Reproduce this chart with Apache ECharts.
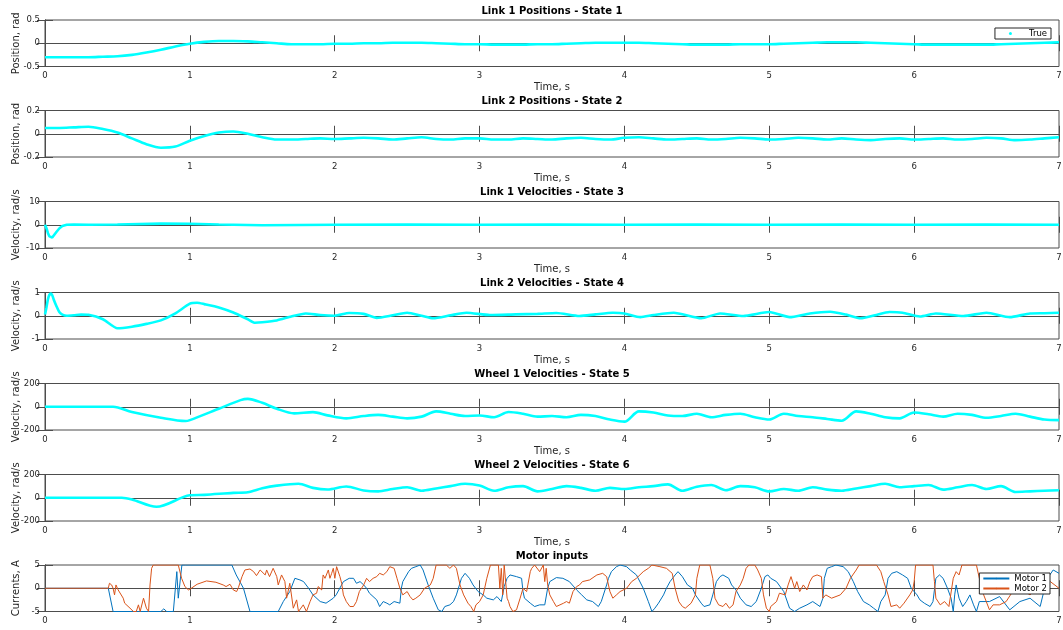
<!DOCTYPE html>
<html><head><meta charset="utf-8">
<script src="https://cdn.jsdelivr.net/npm/echarts@6/dist/echarts.min.js"></script>
<style>html,body{margin:0;padding:0;background:#fff}#c{width:1063px;height:630px}</style>
</head><body><div id="c"></div>
<script>
const titles = ['Link 1 Positions - State 1','Link 2 Positions - State 2','Link 1 Velocities - State 3','Link 2 Velocities - State 4','Wheel 1 Velocities - State 5','Wheel 2 Velocities - State 6','Motor inputs'];
const yNames = ['Position, rad','Position, rad','Velocity, rad/s','Velocity, rad/s','Velocity, rad/s','Velocity, rad/s','Currents, A'];
const yMin = [-0.5,-0.2,-10,-1,-200,-200,-5];
const yMax = [0.5,0.2,10,1,200,200,5];
const xMin = 0, xMax = 7, xStep = 1;
const dt = 0.1;

// State 1 and 2 sampled every 0.1 s
const s1 = [-0.30,-0.30,-0.30,-0.30,-0.29,-0.28,-0.25,-0.20,-0.14,-0.07,-0.01,0.03,0.05,0.05,0.04,0.02,0.00,-0.02,-0.02,-0.02,-0.01,-0.01,0.00,0.00,0.01,0.01,0.01,0.00,-0.01,-0.02,-0.02,-0.03,-0.03,-0.03,-0.02,-0.02,-0.01,0.00,0.01,0.01,0.01,0.01,0.00,-0.01,-0.02,-0.03,-0.03,-0.03,-0.02,-0.02,-0.02,-0.01,0.00,0.01,0.02,0.02,0.02,0.01,0.00,-0.01,-0.02,-0.03,-0.03,-0.03,-0.03,-0.03,-0.02,-0.01,0.00,0.01,0.02];
const s2 = [0.05,0.05,0.055,0.06,0.04,0.01,-0.04,-0.09,-0.12,-0.11,-0.06,-0.02,0.01,0.02,0.00,-0.03,-0.05,-0.05,-0.045,-0.04,-0.045,-0.04,-0.035,-0.04,-0.05,-0.04,-0.03,-0.045,-0.05,-0.04,-0.04,-0.05,-0.05,-0.04,-0.045,-0.05,-0.04,-0.035,-0.045,-0.05,-0.035,-0.03,-0.04,-0.05,-0.045,-0.04,-0.05,-0.045,-0.035,-0.04,-0.05,-0.045,-0.035,-0.04,-0.05,-0.04,-0.05,-0.055,-0.045,-0.04,-0.05,-0.045,-0.04,-0.05,-0.045,-0.035,-0.04,-0.055,-0.05,-0.04,-0.03];
// State 3
const t3 = [0,0.01,0.02,0.03,0.04,0.05,0.06,0.08,0.1,0.12,0.15,0.2,0.3,0.5,0.8,1.0,1.2,1.5,2,2.5,3,3.5,4,4.5,5,5.5,6,6.5,7];
const s3 = [0,-1.5,-3.5,-5,-5.7,-5.5,-4.8,-3,-1.5,-0.5,0,0.1,0,0.1,0.5,0.4,0.1,-0.2,0,0.1,0,0.1,0,0.05,0,0.1,0,0.05,0];
// State 4
const t4 = [0,0.01,0.02,0.03,0.04,0.05,0.06,0.08,0.1,0.12,0.15,0.2,0.25,0.3,0.4,0.5,0.6,0.7,0.8,0.9,1.0,1.05,1.1,1.2,1.3,1.4,1.45,1.5,1.6,1.7,1.8,1.9,2.0,2.1,2.2,2.29,2.4,2.5,2.6,2.68,2.8,2.91,3.07,3.25,3.4,3.53,3.69,3.8,3.92,4.0,4.11,4.2,4.34,4.53,4.66,4.82,5.0,5.14,5.28,5.42,5.53,5.63,5.73,5.83,5.92,6.04,6.15,6.34,6.5,6.66,6.8,6.9,7.0];
const s4 = [0.05,0.35,0.7,0.9,0.95,0.88,0.7,0.4,0.15,0.05,0.0,0.02,0.05,0.04,-0.15,-0.54,-0.47,-0.35,-0.2,0.1,0.52,0.56,0.5,0.36,0.14,-0.15,-0.3,-0.28,-0.2,-0.03,0.1,0.03,0.0,0.12,0.08,-0.09,0.02,0.13,0.0,-0.11,0.02,0.13,0.03,0.06,0.08,0.12,-0.01,0.06,0.13,0.1,-0.06,0.03,0.13,-0.11,0.1,-0.01,0.16,-0.06,0.1,0.17,0.05,-0.11,0.02,0.16,0.13,-0.03,0.1,-0.01,0.13,-0.06,0.1,0.11,0.13];
// State 5
const t5 = [0,0.47,0.6,0.8,0.97,1.0,1.2,1.35,1.4,1.5,1.6,1.72,1.85,1.95,2.08,2.2,2.3,2.4,2.5,2.6,2.7,2.8,2.9,3.0,3.1,3.2,3.3,3.4,3.5,3.6,3.7,3.8,3.9,4.0,4.1,4.2,4.3,4.4,4.5,4.6,4.7,4.8,4.9,5.0,5.1,5.2,5.3,5.4,5.5,5.6,5.7,5.8,5.9,6.0,6.1,6.2,6.3,6.4,6.5,6.6,6.7,6.8,6.9,7.0];
const s5 = [0,0,-46,-95,-123,-115,-17,57,68,34,-17,-57,-46,-74,-100,-80,-70,-85,-100,-85,-40,-60,-80,-75,-90,-45,-60,-85,-80,-90,-70,-80,-110,-128,-40,-50,-75,-80,-60,-90,-70,-60,-90,-110,-60,-80,-90,-105,-120,-40,-60,-90,-100,-50,-65,-85,-60,-70,-95,-80,-60,-85,-110,-115];
// State 6
const t6 = [0,0.53,0.6,0.77,1.0,1.1,1.3,1.4,1.5,1.6,1.75,1.85,1.95,2.08,2.2,2.3,2.4,2.5,2.6,2.7,2.8,2.9,3.0,3.1,3.2,3.3,3.4,3.5,3.6,3.7,3.8,3.9,4.0,4.1,4.2,4.3,4.4,4.5,4.6,4.7,4.8,4.9,5.0,5.1,5.2,5.3,5.4,5.5,5.6,5.7,5.8,5.9,6.0,6.1,6.2,6.3,6.4,6.5,6.6,6.7,6.8,6.9,7.0];
const s6 = [0,0,-15,-78,21,25,42,47,81,104,121,85,71,97,63,55,75,90,60,80,100,120,105,60,90,100,55,75,100,85,60,85,75,90,100,115,60,95,110,65,100,90,55,75,60,90,70,60,80,100,120,90,100,110,70,90,110,75,100,50,55,60,65];
// Motor inputs
const tM1 = [0,0.437,0.47,0.8,0.82,0.84,0.886,0.91,0.92,0.945,0.97,1.29,1.32,1.37,1.415,1.61,1.645,1.69,1.725,1.76,1.785,1.82,1.85,1.9,1.94,1.99,2.01,2.06,2.1,2.13,2.15,2.175,2.2,2.22,2.24,2.29,2.31,2.335,2.36,2.38,2.41,2.45,2.46,2.47,2.51,2.53,2.56,2.59,2.61,2.645,2.68,2.715,2.74,2.76,2.795,2.82,2.84,2.875,2.9,2.93,2.955,2.99,3.025,3.05,3.095,3.12,3.15,3.17,3.19,3.21,3.255,3.29,3.3,3.31,3.35,3.38,3.415,3.45,3.47,3.485,3.53,3.575,3.62,3.67,3.705,3.74,3.78,3.82,3.84,3.877,3.89,3.91,3.945,3.97,4.015,4.04,4.083,4.13,4.165,4.19,4.21,4.235,4.27,4.29,4.315,4.35,4.37,4.4,4.435,4.47,4.49,4.53,4.55,4.59,4.61,4.635,4.66,4.68,4.72,4.74,4.77,4.8,4.84,4.875,4.91,4.945,4.97,4.99,5.01,5.05,5.1,5.14,5.175,5.21,5.26,5.3,5.35,5.37,5.38,5.4,5.43,5.46,5.51,5.545,5.58,5.61,5.65,5.69,5.72,5.75,5.77,5.8,5.82,5.845,5.88,5.92,5.955,5.98,6.02,6.04,6.07,6.11,6.13,6.15,6.175,6.2,6.23,6.255,6.27,6.28,6.29,6.31,6.335,6.36,6.385,6.41,6.43,6.45,6.52,6.59,6.66,6.73,6.8,6.87,6.895,6.92,6.96,7.0];
const m1 = [0,0,-5,-5,-4.43,-5,-5,3.57,-2.14,5,
5,5,2.86,0,-5,-5,-2.86,-0.71,2.14,1.79,
1.43,0,-1.43,-2.86,-3.21,-2.14,-1.43,1.43,2.14,2.14,
1.07,1.43,0.71,0,-1.07,-2.5,-3.93,-2.86,-3.21,-3.57,
-2.86,-3.21,0,1.43,3.57,4.29,4.64,5,3.93,0.71,
-2.14,-4.64,-5,-3.93,-3.57,-2.86,-1.43,2.14,3.21,2.14,
0.71,-0.71,-1.43,-2.14,-2.5,-1.79,-2.86,0.36,2.14,2.86,
2.5,2.14,-0.71,-2.14,-3.21,-3.93,-3.57,-3.57,0,1.43,
2.29,2.14,1.43,-0.36,-1.43,-2.5,-2.86,-3.93,-2.86,0.71,
2.14,3.57,4.64,5,4.64,3.93,2.86,0,-2.86,-5,
-4.29,-3.21,-1.43,0,1.43,2.86,3.57,2.5,0.71,0,
-1.43,-3.21,-3.93,-3.57,-1.43,1.43,2.5,2.86,2.14,0.71,
-0.36,-2.14,-3.57,-3.93,-2.86,0,2.5,2.86,2.14,1.43,
-0.71,-4.29,-5,-4.29,-3.57,-2.86,-3.93,-2.14,2.14,4.29,
4.64,5,4.64,3.57,1.43,-0.71,-2.86,-3.57,-4.29,-5,
-2.86,-1.43,2.14,3.21,3.57,2.86,2.14,0,-1.43,-2.5,
-3.21,-3.93,-2.86,2.14,2.86,2.14,0,-2.14,-5,-1.43,
0.71,-2.14,-3.93,-2.86,-1.43,-3.57,-5,-2.86,-2.86,-1.79,
-4.64,-2.86,-2.14,-3.93,-0.71,2.14,3.93,3.21];
const tM2 = [0,0.437,0.445,0.46,0.47,0.48,0.49,0.505,0.54,0.55,
0.587,0.61,0.63,0.645,0.657,0.68,0.70,0.715,0.725,0.736,
0.747,0.92,0.943,0.966,0.99,1.01,1.05,1.115,1.18,1.23,
1.25,1.277,1.3,1.323,1.335,1.36,1.38,1.415,1.44,1.46,
1.485,1.52,1.53,1.55,1.575,1.6,1.61,1.633,1.656,1.668,
1.69,1.714,1.737,1.75,1.783,1.805,1.83,1.85,1.875,1.886,
1.898,1.91,1.92,1.933,1.956,1.967,1.979,1.99,2.001,2.013,
2.025,2.036,2.048,2.06,2.08,2.105,2.13,2.15,2.17,2.2,
2.22,2.24,2.265,2.29,2.31,2.335,2.36,2.38,2.41,2.43,
2.45,2.47,2.5,2.52,2.54,2.56,2.59,2.62,2.66,2.68,
2.7,2.77,2.795,2.82,2.84,2.865,2.89,2.92,2.94,2.96,
2.975,3.0,3.025,3.05,3.075,3.13,3.14,3.15,3.16,3.17,
3.19,3.2,3.21,3.23,3.255,3.28,3.3,3.325,3.35,3.36,
3.38,3.415,3.44,3.45,3.46,3.47,3.485,3.51,3.53,3.555,
3.58,3.6,3.62,3.645,3.67,3.69,3.71,3.76,3.81,3.85,
3.877,3.9,3.92,3.945,3.97,4.015,4.05,4.083,4.13,4.165,
4.19,4.245,4.29,4.33,4.35,4.375,4.4,4.42,4.46,4.49,
4.5,4.52,4.59,4.61,4.625,4.65,4.68,4.7,4.725,4.75,
4.77,4.8,4.82,4.84,4.86,4.9,4.92,4.945,4.96,4.98,
5.0,5.01,5.05,5.07,5.11,5.13,5.15,5.175,5.19,5.21,
5.235,5.26,5.28,5.3,5.33,5.36,5.37,5.39,5.43,5.49,
5.53,5.56,5.6,5.62,5.74,5.77,5.79,5.82,5.84,5.88,
5.9,5.93,5.97,5.99,6.0,6.01,6.13,6.14,6.15,6.18,
6.21,6.24,6.27,6.29,6.31,6.33,6.43,6.45,6.48,6.52,
6.545,6.59,6.635,6.68,6.73,6.8,6.87,6.94,7.0];
const m2 = [0,0,1.07,0.71,0,-1.43,0.71,-0.36,-2.14,-3.21,
-4.29,-5,-5,-3.57,-5,-2.14,-4.29,-5,0.71,4.29,
5,5,2.14,0.36,-0.36,0,0.86,1.57,1.29,0.71,
0.36,0.86,-0.36,-0.71,0.14,2.5,3.93,4.14,3.57,2.71,
3.93,2.86,3.93,2.5,4.29,2.5,0.71,2.86,1.43,-2.14,
1.07,-4.29,-2.5,-5,-3.57,-5,-2.86,-1.43,-1.07,0.36,
0.71,-0.36,2.86,2.14,3.93,2.14,3.21,4.29,2.14,4.64,
5,2.5,1.07,-1.43,-2.86,-3.93,-3.93,-2.86,-0.71,0.71,
2.14,1.43,2.14,2.5,3.21,2.86,3.57,4.64,4.29,2.14,
0,-1.43,-0.71,-1.79,-2.5,-2.14,-1.43,0,0.71,2.14,
5,5,4.29,5,4.29,0.71,-1.43,-3.21,-3.93,-5,
-3.57,-2.86,-1.43,2.14,5,5,0,4.29,-1.43,5,
-2.14,-2.86,-3.93,-5,-4.64,-2.14,0,-0.71,3.57,4.29,
5,3.57,5,1.43,4.29,0.71,-1.43,-2.86,-3.93,-3.57,
-3.21,-2.86,-3.21,-0.71,0.36,0.71,1.43,1.79,2.86,3.21,
2.5,-0.71,-2.14,-1.43,-0.71,0,1.43,2.14,3.57,4.29,
5,4.64,4.29,3.21,0,-2.86,-3.93,-4.29,-3.21,-1.43,
2.14,5,5,2.14,-2.14,-3.57,-3.93,-3.21,-4.29,-3.57,
-0.71,0.71,2.14,4.29,5,5,3.93,2.14,-1.43,-4.29,
-5,-3.93,-2.86,-1.07,-1.43,0.71,2.5,0,1.43,-0.71,
0.71,-0.36,1.43,2.5,2.86,2.5,-2.14,-1.43,-2.14,-1.43,
0,2.14,3.93,5,5,3.57,1.43,-1.43,-3.93,-3.57,
-4.29,-3.21,-1.43,-0.36,1.43,5,5,1.43,-2.14,-3.57,
-2.86,-3.93,2.14,3.57,2.86,5,5,2.14,-1.43,-4.64,
-3.57,-3.57,-2.86,-0.71,0,-1.43,0.71,1.43,0];

function grid(vals){ return vals.map((v,i)=>[+(i*dt).toFixed(3), v]); }
function pair(ts, vals){ return ts.map((t,i)=>[t, vals[i]]); }

const tops = [20,110.5,201.5,292.5,383.5,474.5,565];
const H = 46.5, L = 45, R = 4;
const axisCol = '#4d4d4d', txtCol = '#262626';
const font = 'DejaVu Sans';

const grids=[], xAxes=[], yAxes=[], series=[], titleArr=[];
for (let i=0;i<7;i++){
  grids.push({left:L, right:R, top:tops[i], height:H, show:true, borderColor:axisCol, borderWidth:1, backgroundColor:'#fff', containLabel:false, outerBoundsMode:'none'});
  xAxes.push({type:'value', gridIndex:i, min:xMin, max:xMax, interval:xStep, position:'bottom',
    axisLine:{show:true, lineStyle:{color:axisCol}}, axisTick:{show:true, inside:true, length:8, lineStyle:{color:axisCol}},
    axisLabel:{color:txtCol, fontFamily:font, fontSize:8.5, margin:5}, splitLine:{show:false},
    name: i<6 ? 'Time, s' : '', nameLocation:'middle', nameGap:16, nameMoveOverlap:false, nameTextStyle:{color:txtCol, fontFamily:font, fontSize:10}});
  xAxes.push({type:'value', gridIndex:i, min:xMin, max:xMax, interval:xStep, position:'top',
    axisLine:{show:true, lineStyle:{color:axisCol}}, axisTick:{show:true, inside:true, length:8, lineStyle:{color:axisCol}},
    axisLabel:{show:false}, splitLine:{show:false}});
  yAxes.push({type:'value', gridIndex:i, min:yMin[i], max:yMax[i], interval:yMax[i], position:'left',
    axisLine:{show:true, lineStyle:{color:axisCol}}, axisTick:{show:true, inside:true, length:8, lineStyle:{color:axisCol}},
    axisLabel:{color:txtCol, fontFamily:font, fontSize:8.5, margin:5}, splitLine:{show:false},
    name:yNames[i], nameLocation:'middle', nameGap:24, nameMoveOverlap:false, nameTextStyle:{color:txtCol, fontFamily:font, fontSize:10}});
  yAxes.push({type:'value', gridIndex:i, min:yMin[i], max:yMax[i], interval:yMax[i], position:'right',
    axisLine:{show:true, lineStyle:{color:axisCol}}, axisTick:{show:true, inside:true, length:8, lineStyle:{color:axisCol}},
    axisLabel:{show:false}, splitLine:{show:false}});
  titleArr.push({text:titles[i], left:L+(1063-L-R)/2, top:tops[i]-14, textAlign:'center', padding:0,
    textStyle:{fontFamily:font, fontSize:10, fontWeight:'bold', color:'#000'}});
}
const cy = [[grid(s1),0.3],[grid(s2),0.3],[pair(t3,s3),0],[pair(t4,s4),0.2],[pair(t5,s5),0.3],[pair(t6,s6),0.3]];
cy.forEach((c,i)=>{
  series.push({name:'True', type:'line', xAxisIndex:2*i, yAxisIndex:2*i, data:c[0], symbol:'none', smooth:c[1],
    lineStyle:{color:'#00FFFF', width:2.6}, itemStyle:{color:'#00FFFF'}, silent:true, animation:false});
});
series.push({name:'Motor 1', type:'line', xAxisIndex:12, yAxisIndex:12, data:pair(tM1,m1), symbol:'none',
  lineStyle:{color:'#0072BD', width:1}, itemStyle:{color:'#0072BD'}, animation:false});
series.push({name:'Motor 2', type:'line', xAxisIndex:12, yAxisIndex:12, data:pair(tM2,m2), symbol:'none',
  lineStyle:{color:'#D95319', width:1}, itemStyle:{color:'#D95319'}, animation:false});

const chart = echarts.init(document.getElementById('c'), null, {renderer:'canvas'});
chart.setOption({
  animation:false,
  backgroundColor:'#fff',
  title:titleArr,
  grid:grids, xAxis:xAxes, yAxis:yAxes, series:series,
  legend:[
    {data:[{name:'True', icon:'circle'}], right:12, top:28, itemWidth:3, itemHeight:3, itemGap:0,
     padding:[1,4,1,14], borderColor:'#262626', borderWidth:1, backgroundColor:'#fff',
     textStyle:{fontFamily:font, fontSize:8.5, color:'#000', padding:[0,0,0,12]}},
    {data:['Motor 1','Motor 2'], orient:'vertical', right:13, top:573, itemWidth:26, itemHeight:2, itemGap:1,
     padding:[1,3,1,3], borderColor:'#262626', borderWidth:1, backgroundColor:'#fff',
     textStyle:{fontFamily:font, fontSize:8.5, color:'#000'}}
  ]
});
</script></body></html>
